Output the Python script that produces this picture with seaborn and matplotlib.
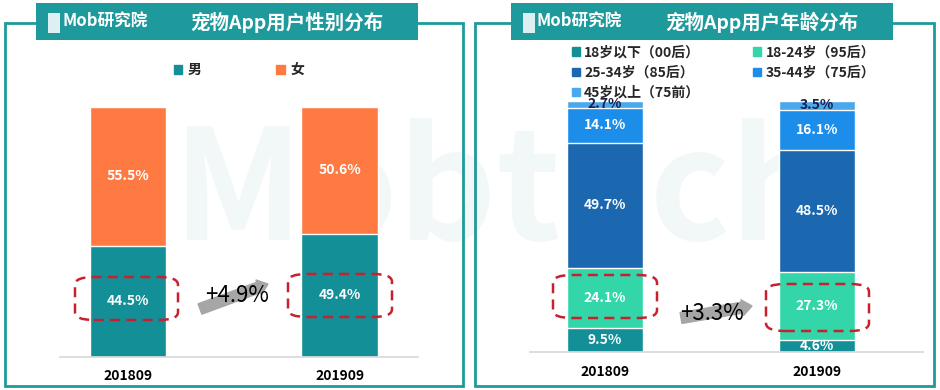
import numpy as np
import pandas as pd
import matplotlib
matplotlib.use('Agg')
import matplotlib.pyplot as plt
import seaborn as sns
from matplotlib.patches import Rectangle, FancyBboxPatch, FancyArrow, Patch

# Dados
periodos = ['201809', '201909']
genero = ['男', '女']
genero_valores = {'男': [44.5, 49.4], '女': [55.5, 50.6]}
idades = ['18岁以下（00后）', '18-24岁（95后）', '25-34岁（85后）', '35-44岁（75后）', '45岁以上（75前）']
idade_valores = {
    '18岁以下（00后）': [9.5, 4.6],
    '18-24岁（95后）': [24.1, 27.3],
    '25-34岁（85后）': [49.7, 48.5],
    '35-44岁（75后）': [14.1, 16.1],
    '45岁以上（75前）': [2.7, 3.5],
}
titulos = ['宠物App用户性别分布', '宠物App用户年龄分布']
variacoes = ['+4.9%', '+3.3%']

cores_genero = ['#138F97', '#FF7A43']
cores_idade = ['#138F97', '#33D6A8', '#1B68B0', '#1C8EEA', '#4AA8EC']
teal = '#1E9A9C'

sns.set_theme(style='white')
plt.rcParams['font.family'] = ['Noto Sans CJK SC', 'DejaVu Sans']

W, H = 940, 390
fig = plt.figure(figsize=(9.4, 3.9), dpi=100)


def px(x, y):
    return x / W, 1 - y / H


# marca d'água (atrás de tudo)
fig.text(*px(500, 195), 'Mobtech', fontsize=110, fontstyle='italic', fontweight='bold',
         color='#F2F8F8', ha='center', va='center', zorder=-5)

# molduras e barras de título
for (x0, x1), (t0, t1), titulo in zip([(5, 463), (475, 934)], [(36, 418), (511, 893)], titulos):
    fig.patches.append(Rectangle(px(x0, 386), (x1 - x0) / W, (386 - 23) / H, fill=False,
                                 edgecolor=teal, lw=2, transform=fig.transFigure, zorder=1))
    fig.patches.append(Rectangle(px(t0, 40), (t1 - t0) / W, 37 / H, facecolor=teal,
                                 edgecolor='none', transform=fig.transFigure, zorder=2))
    fig.patches.append(Rectangle(px(t0 + 12, 33), 12 / W, 20 / H, facecolor='#DDEFF0',
                                 edgecolor='none', transform=fig.transFigure, zorder=3))
    fig.text(*px(t0 + 26, 22), 'Mob研究院', color='white', fontsize=12, fontstyle='italic',
             fontweight='bold', ha='left', va='center', zorder=3)
    fig.text(*px((t0 + t1) / 2 + 60, 22), titulo, color='white', fontsize=14, fontweight='bold',
             ha='center', va='center', zorder=3)


def empilhado(ax, series, cores, valores, escuros=()):
    acum = np.zeros(len(periodos))
    bases = []
    for s in series:
        bases.append(acum.copy())
        acum = acum + np.array(valores[s])
    # desenha do topo para a base (cumulativo)
    for i in range(len(series) - 1, -1, -1):
        s = series[i]
        df = pd.DataFrame({'periodo': periodos, 'topo': bases[i] + np.array(valores[s])})
        sns.barplot(data=df, x='periodo', y='topo', color=cores[i], saturation=1,
                    width=0.36, ax=ax, zorder=2)
    for i, s in enumerate(series):
        for j, v in enumerate(valores[s]):
            c = '#1F1F4A' if s in escuros else 'white'
            ax.text(j, bases[i][j] + v / 2, f'{v}%', ha='center', va='center',
                    color=c, fontsize=10, fontweight='bold', zorder=4)
    ax.set_ylim(0, 100)
    ax.set_xlabel('')
    ax.set_ylabel('')
    ax.set_yticks([])
    ax.set_facecolor('none')
    for lado in ['top', 'left', 'right']:
        ax.spines[lado].set_visible(False)
    ax.spines['bottom'].set_color('#D9D9D9')
    ax.tick_params(axis='x', length=0, pad=9)
    for t in ax.get_xticklabels():
        t.set_fontweight('bold')
        t.set_fontsize(10)
        t.set_color('black')


# painel esquerdo
ax1 = fig.add_axes([60 / W, (H - 357) / H, 358 / W, 250 / H])
empilhado(ax1, genero, cores_genero, genero_valores)
ax1.set_xlim(-0.32, 1.37)
fig.legend(handles=[Patch(color=c, label=l) for c, l in zip(cores_genero, genero)],
           loc='center left', bbox_to_anchor=px(161, 70), ncol=2, frameon=False,
           prop={'size': 10, 'weight': 'bold'}, handlelength=0.6, handleheight=0.6,
           handletextpad=0.4, columnspacing=5.4)

# painel direito (ordem por linha, como na referência)
h_idade = [Patch(color=c, label=l) for c, l in zip(cores_idade, idades)]
fig.legend(handles=[h_idade[k] for k in (0, 2, 4, 1, 3)],
           loc='upper left', bbox_to_anchor=px(562, 36), ncol=2, frameon=False,
           prop={'size': 10, 'weight': 'bold'}, handlelength=0.6, handleheight=0.6,
           handletextpad=0.3, columnspacing=3.8, labelspacing=0.44, borderpad=0.2)
ax2 = fig.add_axes([530 / W, (H - 352) / H, 393 / W, 251 / H])
empilhado(ax2, idades, cores_idade, idade_valores, escuros=('45岁以上（75前）',))
ax2.set_xlim(-0.354, 1.5)

# caixas tracejadas
for (x0, y0, x1, y1) in [(75, 277, 178, 320), (288, 274, 392, 317),
                         (553, 275, 657, 318), (766, 284, 869, 331)]:
    fig.patches.append(FancyBboxPatch(px(x0, y1), (x1 - x0) / W, (y1 - y0) / H,
                                      boxstyle='round,pad=0,rounding_size=0.02',
                                      fill=False, edgecolor='#C8202F', lw=1.8, ls=(0, (4, 2.5)),
                                      transform=fig.transFigure, zorder=5))

# setas de variação
for (xa, ya, xb, yb), (tx, ty), txt in zip([(200, 309, 268, 284), (681, 318, 752, 306)],
                                           [(237, 296), (712, 313)], variacoes):
    fig.patches.append(FancyArrow(xa, H - ya, xb - xa, -(yb - ya), width=11, head_width=16,
                                  head_length=10, length_includes_head=True,
                                  color='#A6A6A6', transform=None, zorder=5))
    fig.text(*px(tx, ty), txt, fontsize=16, color='black', ha='center', va='center', zorder=6)

fig.savefig('out.png', dpi=100)
